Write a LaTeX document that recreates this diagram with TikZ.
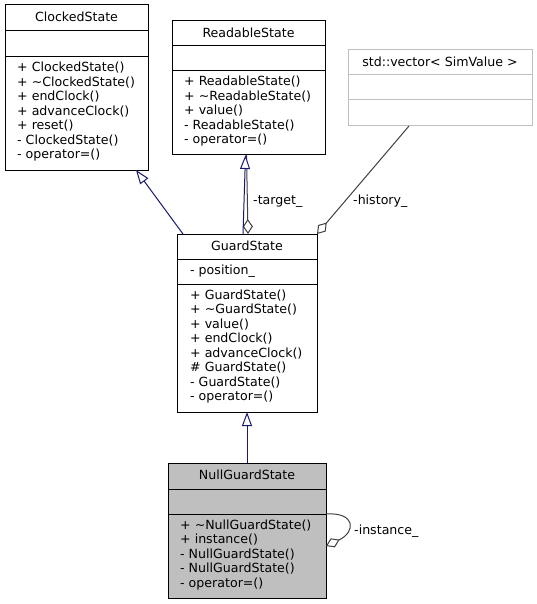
\documentclass[tikz,border=0pt]{standalone}
\usepackage{fontspec}
\setmainfont{DejaVu Sans}
\usetikzlibrary{arrows.meta}
\definecolor{edgeblue}{HTML}{191970}
\definecolor{edgegrey}{HTML}{404040}
\definecolor{boxgrey}{HTML}{BFBFBF}
\begin{document}
\begin{tikzpicture}[x=1pt,y=-1pt,
  umlbox/.style={draw=black, line width=1pt, inner sep=0pt, outer sep=0pt, anchor=north west},
  sepline/.style={draw=black, line width=1pt},
  txt/.style={anchor=base west, inner sep=0pt, font=\fontsize{12.6}{14}\selectfont},
  ttl/.style={anchor=base, inner sep=0pt, font=\fontsize{12.6}{14}\selectfont},
  inherit/.style={draw=edgeblue, line width=1pt, -{Triangle[open, fill=white, length=14pt, width=10pt]}},
  usage/.style={draw=edgegrey, line width=1pt, -{Diamond[open, fill=white, length=15pt, width=10pt]}}
]
\useasboundingbox (0,0) rectangle (537,604);

% ClockedState
\node[umlbox, minimum width=143pt, minimum height=165pt] (clocked) at (5,5) {};
\draw[sepline] (5,31) -- (148,31);
\draw[sepline] (5,57) -- (148,57);
\node[ttl] (clockedT) at (76.5,21.5) {ClockedState};
\node[txt] (c1) at (17,72) {+ ClockedState()};
\node[txt] (c2) at (17,86.5) {+ \textasciitilde ClockedState()};
\node[txt] (c3) at (17,101) {+ endClock()};
\node[txt] (c4) at (17,115.5) {+ advanceClock()};
\node[txt] (c5) at (17,130) {+ reset()};
\node[txt] (c6) at (17,144.5) {- ClockedState()};
\node[txt] (c7) at (17,159) {- operator=()};

% ReadableState
\node[umlbox, minimum width=153pt, minimum height=134pt] (readable) at (172,21) {};
\draw[sepline] (172,46) -- (325,46);
\draw[sepline] (172,71) -- (325,71);
\node[ttl] (readableT) at (248.5,37.5) {ReadableState};
\node[txt] (r1) at (184,86) {+ ReadableState()};
\node[txt] (r2) at (184,100.5) {+ \textasciitilde ReadableState()};
\node[txt] (r3) at (184,115) {+ value()};
\node[txt] (r4) at (184,129.5) {- ReadableState()};
\node[txt] (r5) at (184,144) {- operator=()};

% std::vector
\node[umlbox, draw=boxgrey, minimum width=184pt, minimum height=76pt] (vec) at (348,50) {};
\draw[sepline, draw=boxgrey] (348,75) -- (532,75);
\draw[sepline, draw=boxgrey] (348,100) -- (532,100);
\node[ttl] (vecT) at (440,66.5) {std::vector< SimValue >};

% GuardState
\node[umlbox, minimum width=140pt, minimum height=178pt] (guard) at (177,234) {};
\draw[sepline] (177,259) -- (317,259);
\draw[sepline] (177,284) -- (317,284);
\node[ttl] (guardT) at (247,250.5) {GuardState};
\node[txt] (ga) at (190,274) {- position\_};
\node[txt] (g1) at (190,299) {+ GuardState()};
\node[txt] (g2) at (190,313.5) {+ \textasciitilde GuardState()};
\node[txt] (g3) at (190,328) {+ value()};
\node[txt] (g4) at (190,342.5) {+ endClock()};
\node[txt] (g5) at (190,357) {+ advanceClock()};
\node[txt] (g6) at (190,371.5) {\# GuardState()};
\node[txt] (g7) at (190,386) {- GuardState()};
\node[txt] (g8) at (190,400.5) {- operator=()};

% NullGuardState
\node[umlbox, fill=boxgrey, minimum width=158pt, minimum height=135pt] (null) at (168,463) {};
\draw[sepline] (168,489) -- (326,489);
\draw[sepline] (168,514) -- (326,514);
\node[ttl] (nullT) at (247,479.5) {NullGuardState};
\node[txt] (n1) at (180,529) {+ \textasciitilde NullGuardState()};
\node[txt] (n2) at (180,543.5) {+ instance()};
\node[txt] (n3) at (180,558) {- NullGuardState()};
\node[txt] (n4) at (180,572.5) {- NullGuardState()};
\node[txt] (n5) at (180,587) {- operator=()};

% connectors
\draw[usage] ([xshift=-2pt]readable.south) -- ([xshift=1pt]guard.north);
\draw[inherit] ([xshift=-4pt]guard.north) -- ([xshift=-3pt]readable.south);
\draw[inherit] ([xshift=-64pt]guard.north) -- ([xshift=59.5pt]clocked.south);
\draw[usage] ([xshift=-31pt]vec.south) -- (guard.north east);
\draw[inherit] (null.north) -- (guard.south);
\draw[usage] ([yshift=16.5pt]null.east) .. controls +(30,-2) and +(30,-14) .. ([yshift=-15.5pt]null.east);

% labels
\node[txt] (lTarget) at (253,204) {-target\_};
\node[txt] (lHistory) at (353,204) {-history\_};
\node[txt] (lInstance) at (354,534) {-instance\_};
\end{tikzpicture}
\end{document}
